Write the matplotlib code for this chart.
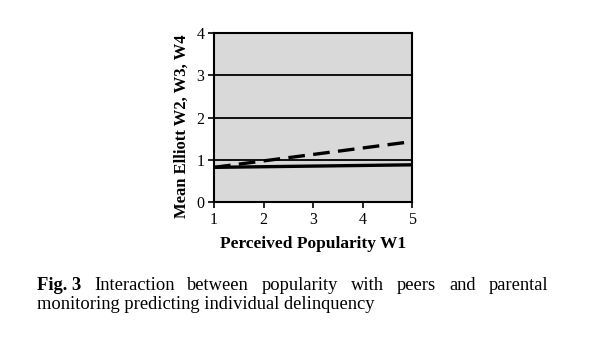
import matplotlib
matplotlib.use("Agg")
import matplotlib.pyplot as plt

# datos
popularidad = [1, 5]
baja_supervision = [0.82, 1.43]   # linea discontinua
alta_supervision = [0.82, 0.88]   # linea continua
yticks = [0, 1, 2, 3, 4]
xticks = [1, 2, 3, 4, 5]

titulo_x = "Perceived Popularity W1"
titulo_y = "Mean Elliott W2, W3, W4"
pie_linea1 = ["Interaction", "between", "popularity", "with", "peers", "and", "parental"]
pie_linea2 = "monitoring predicting individual delinquency"

plt.rcParams['font.family'] = ['Liberation Serif', 'DejaVu Serif']

fig = plt.figure(figsize=(5.95, 3.38), dpi=100)
ax = fig.add_axes([214 / 595, 136 / 338, 198 / 595, 169 / 338])
ax.set_facecolor('#d9d9d9')

for y in yticks[1:-1]:
    ax.axhline(y, color='black', lw=1.3, zorder=1)

ax.plot(popularidad, alta_supervision, color='black', lw=2.4, zorder=3)
ax.plot(popularidad, baja_supervision, color='black', lw=2.4, dashes=(5, 2.5), zorder=3)

ax.set_xlim(1, 5)
ax.set_ylim(0, 4)
ax.set_xticks(xticks)
ax.set_yticks(yticks)
ax.tick_params(labelsize=11.5, direction='out', length=4, width=1.2, color='black', pad=3)
for s in ax.spines.values():
    s.set_linewidth(1.5)
    s.set_color('black')

ax.set_xlabel(titulo_x, fontsize=12.5, fontweight='bold', labelpad=6)
ax.set_ylabel(titulo_y, fontsize=12, fontweight='bold')
ax.yaxis.set_label_coords(-0.12, 0.45)

# pie de figura justificado
izq, der = 37, 548
y1 = 338 - 290
y2 = 338 - 309
fs = 13.3
fig.canvas.draw()
r = fig.canvas.get_renderer()
t0 = fig.text(izq / 595, y1 / 338, "Fig. 3", fontsize=fs, fontweight='bold')
palabras = [t0] + [fig.text(0, y1 / 338, w, fontsize=fs) for w in pie_linea1]
anchos = [t.get_window_extent(r).width for t in palabras]
hueco = (der - izq - sum(anchos)) / (len(palabras) - 1)
x = izq
for t, w in zip(palabras, anchos):
    t.set_x(x / 595)
    x += w + hueco

fig.text(izq / 595, y2 / 338, pie_linea2, fontsize=fs)

fig.savefig("out.png", dpi=100, facecolor='white')
